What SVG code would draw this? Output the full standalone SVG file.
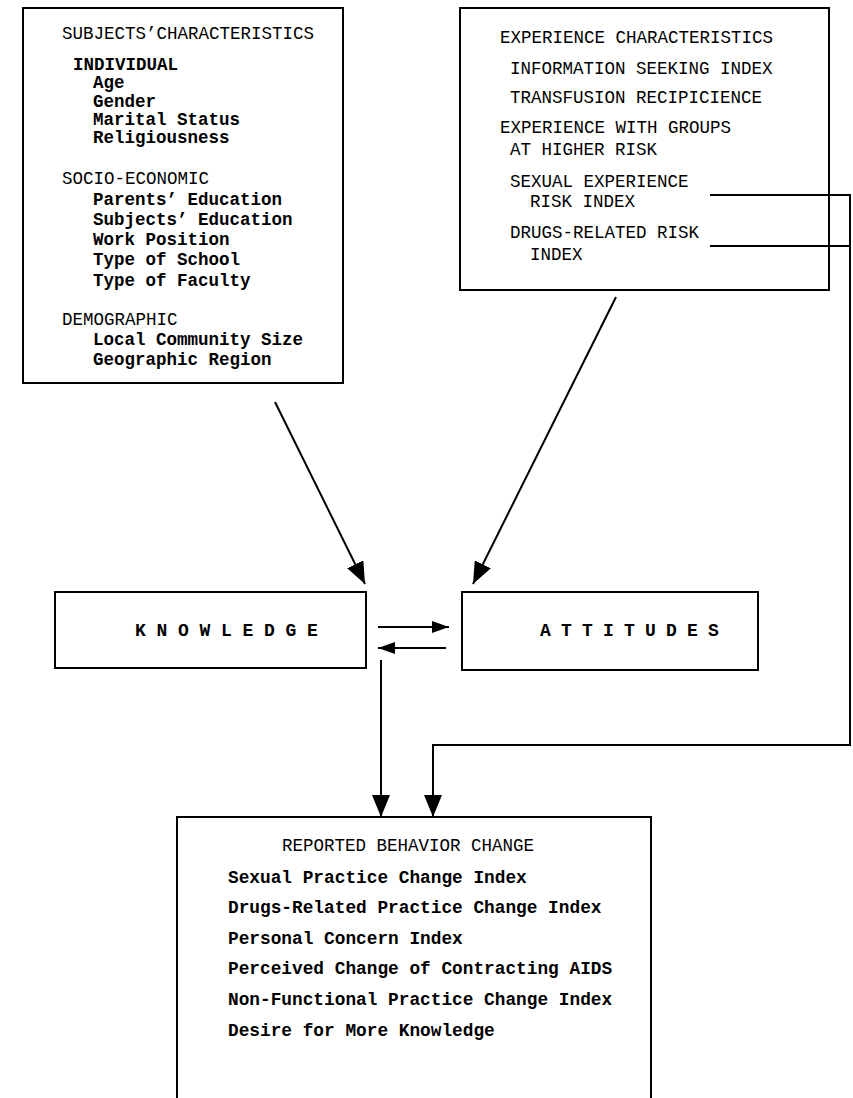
<svg xmlns="http://www.w3.org/2000/svg" width="853" height="1098" viewBox="0 0 853 1098">
<style>
  .box { fill: #fff; stroke: #000; stroke-width: 2; }
  .open { fill: none; stroke: #000; stroke-width: 2; }
  .t { font-family: "Liberation Mono", "Courier New", monospace; font-size: 17.5px; fill: #000; }
  .b { font-weight: bold; }
  .sp { font-family: "Liberation Mono", "Courier New", monospace; font-size: 18px; font-weight: bold; fill: #000; letter-spacing: 10.7px; }
  .c { fill: none; stroke: #000; stroke-width: 2; }
</style>
<defs>
  <marker id="ah" markerUnits="userSpaceOnUse" markerWidth="24" markerHeight="18" refX="22" refY="9" orient="auto">
    <path d="M0,0 L22,9 L0,18 Z" fill="#000"/>
  </marker>
  <marker id="ahs" markerUnits="userSpaceOnUse" markerWidth="18" markerHeight="14" refX="17" refY="7" orient="auto">
    <path d="M0,1 L17,7 L0,13 Z" fill="#000"/>
  </marker>
</defs>
<rect width="853" height="1098" fill="#fff"/>

<g id="subjects">
  <rect class="box" x="23" y="8" width="320" height="375"/>
  <text class="t" x="62" y="39">SUBJECTS’CHARACTERISTICS</text>
  <text class="t b" x="73" y="70">INDIVIDUAL</text>
  <text class="t b" x="93" y="88">Age</text>
  <text class="t b" x="93" y="107">Gender</text>
  <text class="t b" x="93" y="125">Marital Status</text>
  <text class="t b" x="93" y="143">Religiousness</text>
  <text class="t" x="62" y="184">SOCIO-ECONOMIC</text>
  <text class="t b" x="93" y="205">Parents’ Education</text>
  <text class="t b" x="93" y="225">Subjects’ Education</text>
  <text class="t b" x="93" y="245">Work Position</text>
  <text class="t b" x="93" y="265">Type of School</text>
  <text class="t b" x="93" y="286">Type of Faculty</text>
  <text class="t" x="62" y="325">DEMOGRAPHIC</text>
  <text class="t b" x="93" y="345">Local Community Size</text>
  <text class="t b" x="93" y="365">Geographic Region</text>
</g>

<g id="experience">
  <rect class="box" x="460" y="8" width="369" height="282"/>
  <text class="t" x="500" y="43">EXPERIENCE CHARACTERISTICS</text>
  <text class="t" x="510" y="74">INFORMATION SEEKING INDEX</text>
  <text class="t" x="510" y="103">TRANSFUSION RECIPICIENCE</text>
  <text class="t" x="500" y="133">EXPERIENCE WITH GROUPS</text>
  <text class="t" x="510" y="155">AT HIGHER RISK</text>
  <text class="t" x="510" y="187">SEXUAL EXPERIENCE</text>
  <text class="t" x="530" y="207">RISK INDEX</text>
  <text class="t" x="510" y="238">DRUGS-RELATED RISK</text>
  <text class="t" x="530" y="260">INDEX</text>
</g>

<g id="knowledge">
  <rect class="box" x="55" y="592" width="311" height="76"/>
  <text class="sp" x="135" y="636">KNOWLEDGE</text>
</g>

<g id="attitudes">
  <rect class="box" x="462" y="592" width="296" height="78"/>
  <text class="sp" x="540" y="636" style="letter-spacing:10.2px">ATTITUDES</text>
</g>

<g id="behavior">
  <path class="open" d="M177,1098 L177,817 L651,817 L651,1098"/>
  <text class="t" x="282" y="851">REPORTED BEHAVIOR CHANGE</text>
  <text class="t b" x="228" y="883" style="font-size:17.8px">Sexual Practice Change Index</text>
  <text class="t b" x="228" y="913" style="font-size:17.8px">Drugs-Related Practice Change Index</text>
  <text class="t b" x="228" y="944" style="font-size:17.8px">Personal Concern Index</text>
  <text class="t b" x="228" y="974" style="font-size:17.8px">Perceived Change of Contracting AIDS</text>
  <text class="t b" x="228" y="1005" style="font-size:17.8px">Non-Functional Practice Change Index</text>
  <text class="t b" x="228" y="1036" style="font-size:17.8px">Desire for More Knowledge</text>
</g>

<g id="connectors">
  <line class="c" x1="275" y1="402" x2="365" y2="584" marker-end="url(#ah)"/>
  <line class="c" x1="616" y1="297" x2="473" y2="584" marker-end="url(#ah)"/>
  <line class="c" x1="378" y1="627" x2="449" y2="627" marker-end="url(#ahs)"/>
  <line class="c" x1="446" y1="648" x2="378" y2="648" marker-end="url(#ahs)"/>
  <line class="c" x1="381" y1="660" x2="381" y2="817" marker-end="url(#ah)"/>
  <line class="c" x1="710" y1="195" x2="851" y2="195"/>
  <line class="c" x1="710" y1="246" x2="851" y2="246"/>
  <polyline class="c" points="850,194 850,745 433,745 433,817" marker-end="url(#ah)"/>
</g>
</svg>
